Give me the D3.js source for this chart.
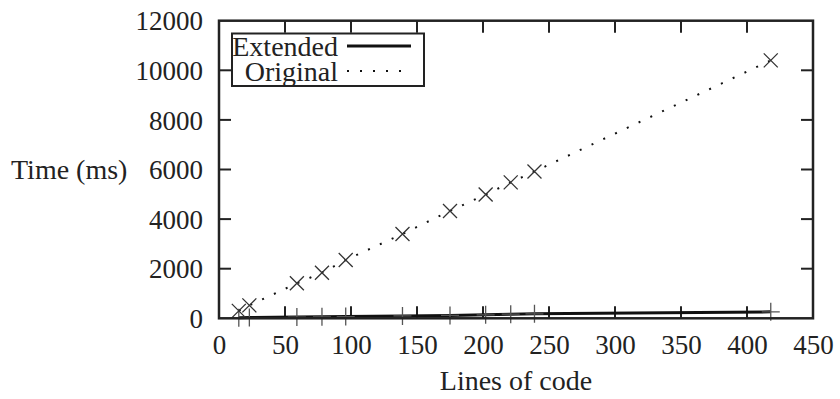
<!DOCTYPE html>
<html>
<head>
<meta charset="utf-8">
<script src="https://cdn.jsdelivr.net/npm/d3@7"></script>
<style>
  body { margin: 0; background: #fff; }
  text { font-family: "Liberation Serif", "DejaVu Serif", serif; fill: #222; }
</style>
</head>
<body>
<svg id="chart" width="840" height="399"></svg>
<script>
// data
var linesOfCode = [15, 23, 59, 78, 96, 139, 175, 202, 221, 239, 418];
var originalMs  = [300, 520, 1410, 1840, 2350, 3400, 4330, 4990, 5480, 5920, 10400];
var extendedMs  = [20, 30, 50, 60, 70, 95, 115, 140, 165, 180, 260];
var xTicks = [0, 50, 100, 150, 200, 250, 300, 350, 400, 450];
var yTicks = [0, 2000, 4000, 6000, 8000, 10000, 12000];

var svg = d3.select('#chart');

// plot box (top is a reserved global, so use plot* names)
var plotLeft = 219, plotRight = 813, plotTop = 20.7, plotBottom = 318.3;
var x = d3.scaleLinear().domain([0, 450]).range([plotLeft, plotRight]);
var y = d3.scaleLinear().domain([0, 12000]).range([plotBottom, plotTop]);

var fs = 27, fsWords = 28;

// bottom axis labels
var xAxis = d3.axisBottom(x).tickValues(xTicks).tickSize(0).tickPadding(0);
var gx = svg.append('g').attr('transform', 'translate(0,' + plotBottom + ')').call(xAxis);
gx.select('.domain').remove();
gx.selectAll('text')
    .attr('y', 36)
    .attr('dy', 0)
    .style('font-size', fs + 'px')
    .style('font-family', '"Liberation Serif", serif')
    .attr('fill', '#222');

var yAxis = d3.axisLeft(y).tickValues(yTicks).tickSize(0).tickPadding(0).tickFormat(d3.format('d'));
var gy = svg.append('g').attr('transform', 'translate(' + plotLeft + ',0)').call(yAxis);
gy.select('.domain').remove();
gy.selectAll('text')
    .attr('x', -16)
    .attr('dy', '0.34em')
    .style('font-size', fs + 'px')
    .style('font-family', '"Liberation Serif", serif')
    .attr('fill', '#222');

// inward ticks on all four sides
var tickLen = 12;
var ticks = svg.append('g').attr('stroke', '#222').attr('stroke-width', 2);
xTicks.slice(1, -1).forEach(function (t) {
    ticks.append('line').attr('x1', x(t)).attr('x2', x(t)).attr('y1', plotBottom).attr('y2', plotBottom - tickLen);
    ticks.append('line').attr('x1', x(t)).attr('x2', x(t)).attr('y1', plotTop).attr('y2', plotTop + tickLen);
});
yTicks.slice(1, -1).forEach(function (t) {
    ticks.append('line').attr('x1', plotLeft).attr('x2', plotLeft + tickLen).attr('y1', y(t)).attr('y2', y(t));
    ticks.append('line').attr('x1', plotRight).attr('x2', plotRight - tickLen).attr('y1', y(t)).attr('y2', y(t));
});

// axis titles
svg.append('text')
    .attr('x', 11).attr('y', y(6000))
    .attr('dy', '0.34em')
    .style('font-size', fsWords + 'px')
    .text('Time (ms)');

svg.append('text')
    .attr('x', (plotLeft + plotRight) / 2).attr('y', 390)
    .attr('text-anchor', 'middle')
    .style('font-size', fsWords + 'px')
    .text('Lines of code');

// series
var pts = linesOfCode.map(function (d, i) {
    return { x: d, orig: originalMs[i], ext: extendedMs[i] };
});

var lineExt = d3.line().x(function (d) { return x(d.x); }).y(function (d) { return y(d.ext); });
var lineOrig = d3.line().x(function (d) { return x(d.x); }).y(function (d) { return y(d.orig); });

svg.append('path')
    .datum(pts)
    .attr('d', lineExt)
    .attr('fill', 'none')
    .attr('stroke', '#111')
    .attr('stroke-width', 3);

svg.selectAll('.plus')
    .data(pts).enter()
    .append('path')
    .attr('class', 'plus')
    .attr('d', function (d) {
        var cx = x(d.x), cy = y(d.ext), s = 9;
        return 'M' + (cx - s) + ',' + cy + 'H' + (cx + s) + 'M' + cx + ',' + (cy - s) + 'V' + (cy + s);
    })
    .attr('stroke', '#555')
    .attr('stroke-width', 1.3)
    .attr('fill', 'none');

svg.append('path')
    .datum(pts)
    .attr('d', lineOrig)
    .attr('fill', 'none')
    .attr('stroke', '#111')
    .attr('stroke-width', 2)
    .attr('stroke-dasharray', '2,11');

svg.selectAll('.cross')
    .data(pts).enter()
    .append('path')
    .attr('class', 'cross')
    .attr('d', function (d) {
        var cx = x(d.x), cy = y(d.orig), s = 7;
        return 'M' + (cx - s) + ',' + (cy - s) + 'L' + (cx + s) + ',' + (cy + s) +
               'M' + (cx - s) + ',' + (cy + s) + 'L' + (cx + s) + ',' + (cy - s);
    })
    .attr('stroke', '#333')
    .attr('stroke-width', 1.3)
    .attr('fill', 'none');

// frame
svg.append('rect')
    .attr('x', plotLeft).attr('y', plotTop)
    .attr('width', plotRight - plotLeft).attr('height', plotBottom - plotTop)
    .attr('fill', 'none')
    .attr('stroke', '#222')
    .attr('stroke-width', 2.5);

// legend
var lg = svg.append('g');
lg.append('rect')
    .attr('x', 232).attr('y', 33.5)
    .attr('width', 192).attr('height', 52.5)
    .attr('fill', '#fff')
    .attr('stroke', '#222')
    .attr('stroke-width', 2);

var legendItems = [
    { label: 'Extended', cy: 46, dash: null, w: 3 },
    { label: 'Original', cy: 71, dash: '2,11', w: 2 }
];
legendItems.forEach(function (it) {
    lg.append('text')
        .attr('x', 338).attr('y', it.cy)
        .attr('dy', '0.34em')
        .attr('text-anchor', 'end')
        .style('font-size', fsWords + 'px')
        .text(it.label);
    lg.append('line')
        .attr('x1', 347).attr('x2', 411)
        .attr('y1', it.cy).attr('y2', it.cy)
        .attr('stroke', '#111')
        .attr('stroke-width', it.w)
        .attr('stroke-dasharray', it.dash);
});
</script>
</body>
</html>
